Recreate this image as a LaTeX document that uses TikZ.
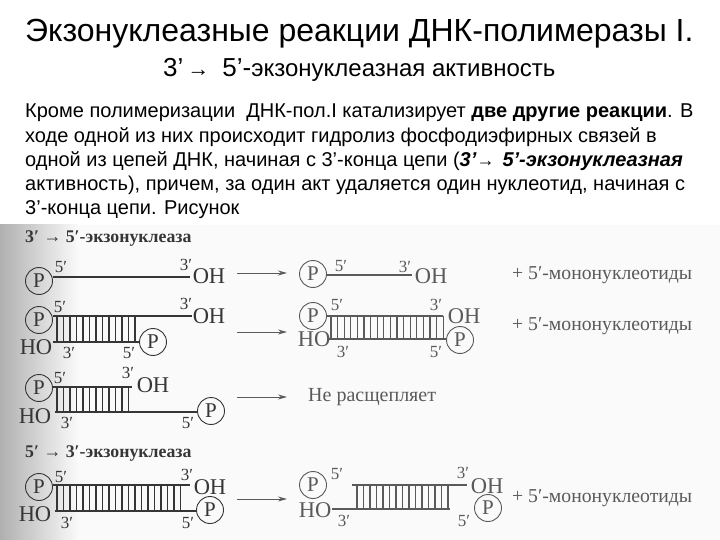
\documentclass[tikz,border=0pt]{standalone}
\usepackage{fontspec}
\setmainfont{Liberation Sans}
\newfontfamily\scanfont{Liberation Serif}
\usetikzlibrary{arrows.meta}
\definecolor{scanbg}{HTML}{FAFAFA}
\definecolor{scanink}{HTML}{363636}
\definecolor{scanpale}{HTML}{5A5A5A}
\colorlet{inkcol}{scanink}
\tikzset{
  title/.style={anchor=base west, inner sep=0pt, text=black},
  bodyline/.style={anchor=base west, inner sep=0pt, text=black, font=\fontsize{20}{22}\selectfont},
  scan/.style={inner sep=0pt, text=inkcol, font=\scanfont\fontsize{17}{18}\selectfont},
  endmark/.style={scan, font=\scanfont\fontsize{22.5}{24}\selectfont},
  phos/.style={circle, draw=inkcol, line width=0.9pt, minimum size=27pt, inner sep=0pt, text=inkcol, font=\scanfont\fontsize{21}{22}\selectfont},
  strand/.style={draw=inkcol, line width=2.2pt},
  rung/.style={draw=inkcol, line width=1.1pt},
  react/.style={draw=scanpale, line width=0.9pt, -{Stealth[length=9pt,width=5pt]}},
  yield/.style={inner sep=0pt, anchor=west, text=scanpale, font=\scanfont\fontsize{19.7}{22}\selectfont},
  seclabel/.style={scan, anchor=west, font=\scanfont\bfseries\fontsize{17.8}{20}\selectfont},
}
\begin{document}
\begin{tikzpicture}[x=1pt, y=-1pt]

\useasboundingbox (0,0) rectangle (720,540);

% -------------------------------------------------------
% Scanned page behind the figure
% -------------------------------------------------------
\fill[white] (0,0) rectangle (720,540);
\fill[scanbg] (0,225) rectangle (720,540);
\shade[left color=gray!62, right color=scanbg] (0,225) rectangle (78,540);

%%%%%% HEADINGS
\node[title, font=\fontsize{32}{36}\selectfont] (headMain) at (25,42) {Экзонуклеазные реакции ДНК-полимеразы I.};
\node[title, font=\fontsize{24}{26}\selectfont] (headSub) at (163,77) {{\fontsize{26}{26}\selectfont 3’\hspace{4pt}{\fontsize{22}{22}\selectfont →}\hspace{13pt}5’-}экзонуклеазная активность};

%%%%%% BODY TEXT
\node[bodyline] (lineA) at (25,118) {Кроме полимеризации\ \ ДНК-пол.I катализирует \textbf{две другие реакции}. В};
\node[bodyline] (lineB) at (25,142.5) {ходе одной из них происходит гидролиз фосфодиэфирных связей в};
\node[bodyline] (lineC) at (25,166.5) {одной из цепей ДНК, начиная с 3’-конца цепи (\textbf{\textit{3’}}{\fontsize{18}{18}\selectfont →}\hspace{8pt}\textbf{\textit{5’-экзонуклеазная}}};
\node[bodyline] (lineD) at (25,190.5) {активность), причем, за один акт удаляется один нуклеотид, начиная с};
\node[bodyline] (lineE) at (25,214.5) {3’-конца цепи. Рисунок};

%%%%%% SECTION LABELS
\node[seclabel] (secTop) at (25,239) {3′ → 5′-экзонуклеаза};
\node[seclabel] (secLow) at (25,454) {5′ → 3′-экзонуклеаза};

%%%%%% ROW 1 - single strand
\node[phos] (pA) at (39,281) {P};
\node[endmark] (ohA) at (209,276) {OH};
\coordinate (aEnd) at (190,277);
\draw[strand] (pA.east |- aEnd) -- (aEnd);
\node[scan] (fiveA) at (61,267) {5′};
\node[scan] (threeA) at (186,265) {3′};

\coordinate (arrAs) at (237,273);
\coordinate (arrAe) at (287,273);
\draw[react] (arrAs) -- (arrAe);

\begin{scope}
\colorlet{inkcol}{scanpale}
\node[phos] (qA) at (313,274) {P};
\node[endmark] (oqA) at (431,276) {OH};
\coordinate (qaEnd) at (412,275);
\draw[strand] (qA.east |- qaEnd) -- (qaEnd);
\node[scan] (fiveQa) at (341,266) {5′};
\node[scan] (threeQa) at (405,267) {3′};
\end{scope}
\node[yield] (yieldA) at (512,275) {+ 5′-мононуклеотиды};

%%%%%% ROW 2 - recessed 5' partner
\node[phos] (pB) at (39,320) {P};
\node[endmark] (ohB) at (209,316) {OH};
\node[endmark] (hoB) at (36,347) {HO};
\node[phos] (rB) at (153,342) {P};
\coordinate (bEnd) at (192,316);
\coordinate (bLow) at (53,342);
\draw[strand] (pB.east |- bEnd) -- (bEnd);
\draw[strand] (bLow) -- (rB.west |- bLow);
\foreach \x in {57,63.5,...,135} \draw[rung] (\x,316) -- (\x,342);
\node[scan] (fiveB) at (60,307) {5′};
\node[scan] (threeB) at (186,304) {3′};
\node[scan] (threeBl) at (69,353) {3′};
\node[scan] (fiveBl) at (129,353) {5′};

\coordinate (arrBs) at (237,332);
\coordinate (arrBe) at (287,332);
\draw[react] (arrBs) -- (arrBe);

\begin{scope}
\colorlet{inkcol}{scanpale}
\node[phos] (qB) at (313,316) {P};
\node[endmark] (oqB) at (464,316) {OH};
\node[endmark] (hqB) at (314,339) {HO};
\node[phos] (sB) at (460,340) {P};
\coordinate (qbEnd) at (443,316);
\coordinate (qbLow) at (329,339);
\draw[strand] (qB.east |- qbEnd) -- (qbEnd);
\draw[strand] (qbLow) -- (sB.west |- qbLow);
\foreach \x in {331,337.6,...,444} \draw[rung] (\x,316) -- (\x,339);
\node[scan] (fiveQb) at (337,305) {5′};
\node[scan] (threeQb) at (436,305) {3′};
\node[scan] (threeQbl) at (343,352) {3′};
\node[scan] (fiveQbl) at (436,352) {5′};
\end{scope}
\node[yield] (yieldB) at (512,326) {+ 5′-мононуклеотиды};

%%%%%% ROW 3 - recessed 3' end, no cleavage
\node[phos] (pC) at (39,388) {P};
\node[endmark] (ohC) at (153,385) {OH};
\node[endmark] (hoC) at (35,416) {HO};
\node[phos] (rC) at (211,411) {P};
\coordinate (cEnd) at (132,387);
\coordinate (cLow) at (55,412);
\draw[strand] (pC.east |- cEnd) -- (cEnd);
\draw[strand] (cLow) -- (rC.west |- cLow);
\foreach \x in {57,63.5,...,129} \draw[rung] (\x,387) -- (\x,412);
\node[scan] (fiveC) at (60,378) {5′};
\node[scan] (threeC) at (128,373) {3′};
\node[scan] (threeCl) at (67,423) {3′};
\node[scan] (fiveCl) at (188,423) {5′};

\coordinate (arrCs) at (237,397);
\coordinate (arrCe) at (287,397);
\draw[react] (arrCs) -- (arrCe);
\node[yield, font=\scanfont\fontsize{20}{22}\selectfont] (noCut) at (308,397) {Не расщепляет};

%%%%%% ROW 4 - full duplex
\node[phos] (pD) at (39,487) {P};
\node[endmark] (ohD) at (210,487) {OH};
\node[endmark] (hoD) at (35,514) {HO};
\node[phos] (rD) at (210,510) {P};
\coordinate (dEnd) at (190,485);
\coordinate (dLow) at (55,511);
\draw[strand] (pD.east |- dEnd) -- (dEnd);
\draw[strand] (dLow) -- (rD.west |- dLow);
\foreach \x in {57,63.5,...,186} \draw[rung] (\x,485) -- (\x,511);
\node[scan] (fiveD) at (61,477) {5′};
\node[scan] (threeD) at (187,475) {3′};
\node[scan] (threeDl) at (67,523) {3′};
\node[scan] (fiveDl) at (188,523) {5′};

\coordinate (arrDs) at (237,499);
\coordinate (arrDe) at (287,499);
\draw[react] (arrDs) -- (arrDe);

\begin{scope}
\colorlet{inkcol}{scanpale}
\node[phos] (qD) at (313,485) {P};
\node[endmark] (oqD) at (487,486) {OH};
\node[endmark] (hqD) at (315,510) {HO};
\node[phos] (sD) at (488,508) {P};
\coordinate (qdTop) at (352,485);
\coordinate (qdEnd) at (467,485);
\coordinate (qdLow) at (332,509);
\coordinate (qdRun) at (450,509);
\draw[strand] (qdTop) -- (qdEnd);
\draw[strand] (qdLow) -- (qdRun);
\foreach \x in {357,363.5,...,449} \draw[rung] (\x,485) -- (\x,509);
\node[scan] (fiveQd) at (337,474) {5′};
\node[scan] (threeQd) at (463,473) {3′};
\node[scan] (threeQdl) at (344,521) {3′};
\node[scan] (fiveQdl) at (464,521) {5′};
\end{scope}
\node[yield] (yieldD) at (512,498) {+ 5′-мононуклеотиды};

\end{tikzpicture}
\end{document}
